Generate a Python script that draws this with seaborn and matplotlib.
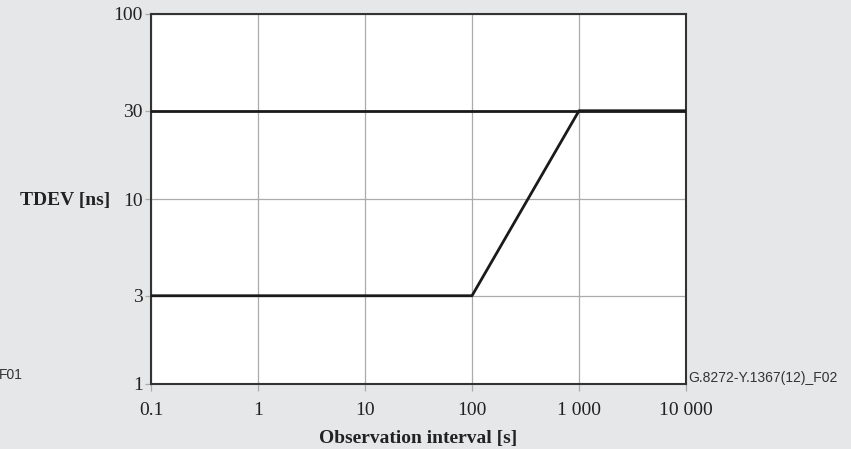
import pandas as pd
import seaborn as sns
import matplotlib.pyplot as plt
from matplotlib.ticker import FixedLocator, FixedFormatter, NullLocator

# Mask data: upper limit and lower limit of TDEV
upper_tau = [0.1, 10000]
upper_tdev = [30, 30]
lower_tau = [0.1, 100, 1000, 10000]
lower_tdev = [3, 3, 30, 30]

x_ticks = [0.1, 1, 10, 100, 1000, 10000]
x_labels = ["0.1", "1", "10", "100", "1 000", "10 000"]
y_ticks = [1, 3, 10, 30, 100]
y_labels = ["1", "3", "10", "30", "100"]

upper = pd.DataFrame({"tau": upper_tau, "tdev": upper_tdev})
lower = pd.DataFrame({"tau": lower_tau, "tdev": lower_tdev})

sns.set_theme(style="white")
plt.rcParams['font.family'] = ['Liberation Serif', 'DejaVu Serif']

bg = "#e6e7e9"
fig = plt.figure(figsize=(8.51, 4.49), dpi=100, facecolor=bg)
ax = fig.add_axes([151 / 851, 1 - 384 / 449, 535 / 851, 370 / 449])
ax.set_facecolor("white")

sns.lineplot(x="tau", y="tdev", data=upper, ax=ax, color="#1a1a1a",
             linewidth=2, sort=False, estimator=None, zorder=3)
sns.lineplot(x="tau", y="tdev", data=lower, ax=ax, color="#1a1a1a",
             linewidth=2, sort=False, estimator=None, zorder=3)

ax.set_xscale("log")
ax.set_yscale("log")
ax.set_xlim(0.1, 10000)
ax.set_ylim(1, 100)

ax.xaxis.set_major_locator(FixedLocator(x_ticks))
ax.xaxis.set_major_formatter(FixedFormatter(x_labels))
ax.yaxis.set_major_locator(FixedLocator(y_ticks))
ax.yaxis.set_major_formatter(FixedFormatter(y_labels))
ax.xaxis.set_minor_locator(NullLocator())
ax.yaxis.set_minor_locator(NullLocator())

ax.grid(True, color="#ababab", linewidth=0.9, zorder=1)
ax.tick_params(axis="both", which="major", direction="out", width=0.9,
               color="#ababab", labelsize=14, labelcolor="#222222",
               bottom=True, left=True)
ax.tick_params(axis="x", length=5, pad=8)
ax.tick_params(axis="y", length=4, pad=2)
for side in ax.spines.values():
    side.set_color("#333333")
    side.set_linewidth(1.5)

ax.set_xlabel("Observation interval [s]", fontsize=14, fontweight="bold",
              color="#222222", labelpad=8)
ax.set_ylabel("")
fig.text(110 / 851, 1 - 200 / 449, "TDEV [ns]", ha="right", va="center",
         fontsize=14, fontweight="bold", color="#222222")

fig.text(-1 / 851, 1 - 375 / 449, "F01", ha="left", va="center",
         fontsize=10, color="#333333", family=["Liberation Sans", "DejaVu Sans"])
fig.text(688 / 851, 1 - 378 / 449, "G.8272-Y.1367(12)_F02", ha="left",
         va="center", fontsize=10, color="#333333",
         family=["Liberation Sans", "DejaVu Sans"])

fig.savefig("out.png", dpi=100, facecolor=bg)
